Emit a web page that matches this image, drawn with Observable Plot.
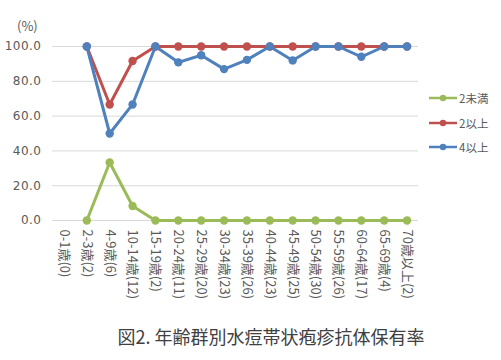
<!DOCTYPE html>
<html>
<head>
<meta charset="utf-8">
<script src="https://cdn.jsdelivr.net/npm/d3@7"></script>
<script src="https://cdn.jsdelivr.net/npm/@observablehq/plot@0.6"></script>
<style>
  html, body { margin: 0; padding: 0; background: #fff; }
  #wrap { position: relative; width: 501px; height: 360px; font-family: "Noto Sans CJK JP", "Noto Sans", sans-serif; color: #595959; }
  #wrap > svg { position: absolute; left: 0; top: 0; }
  #wrap g[aria-label="y-axis tick label"] text { font-family: "DejaVu Sans", sans-serif; letter-spacing: 0.5px; }
  #unit { position: absolute; left: 17px; top: 16px; font-size: 13px; }
  #legend { position: absolute; left: 429px; top: 86px; font-size: 11.5px; }
  .li { display: flex; align-items: center; height: 24.5px; }
  .li svg { position: static; margin-right: 2px; }
  #title { position: absolute; left: 0; width: 542px; top: 323px; text-align: center; font-size: 18px; color: #404040; }
</style>
</head>
<body>
<div id="wrap"></div>
<script>
const categories = ["0-1歳(0)","2-3歳(2)","4-9歳(6)","10-14歳(12)","15-19歳(2)","20-24歳(11)","25-29歳(20)","30-34歳(23)","35-39歳(26)","40-44歳(23)","45-49歳(25)","50-54歳(30)","55-59歳(26)","60-64歳(17)","65-69歳(4)","70歳以上(2)"];
const seriesNames = ["2未満", "2以上", "4以上"];
const seriesColors = ["#9BBB59", "#C0504D", "#4F81BD"];
const under2 = [null, 0, 33.3, 8.3, 0, 0, 0, 0, 0, 0, 0, 0, 0, 0, 0, 0];
const over2  = [null, 100, 66.7, 91.7, 100, 100, 100, 100, 100, 100, 100, 100, 100, 100, 100, 100];
const over4  = [null, 100, 50, 66.7, 100, 90.9, 95, 87, 92.3, 100, 92, 100, 100, 94.1, 100, 100];
const yTicks = [0, 20, 40, 60, 80, 100];
const titleText = "図2. 年齢群別水痘帯状疱疹抗体保有率";
const unitText = "(%)";

const seriesValues = [under2, over2, over4];
const data = [];
seriesValues.forEach((vals, si) => vals.forEach((v, i) => data.push({series: seriesNames[si], cat: categories[i], value: v})));
const valid = data.filter(d => d.value != null);

const chart = Plot.plot({
  width: 501,
  height: 360,
  marginTop: 46,
  marginBottom: 140,
  marginLeft: 52,
  marginRight: 83,
  style: {fontFamily: '"Noto Sans CJK JP", "Noto Sans", sans-serif', color: "#595959", background: "transparent"},
  x: {type: "point", domain: categories, padding: 0.5, round: false},
  y: {domain: [0, 100]},
  color: {domain: seriesNames, range: seriesColors},
  marks: [
    Plot.ruleY(yTicks, {stroke: "#D9D9D9", strokeWidth: 1}),
    Plot.axisY({ticks: yTicks, tickSize: 0, tickPadding: 11, tickFormat: d => d.toFixed(1), fontSize: 12, label: null}),
    Plot.axisX({tickSize: 0, tickPadding: 9, tickRotate: 90, fontSize: 13, label: null}),
    Plot.line(valid, {x: "cat", y: "value", z: "series", stroke: "series", strokeWidth: 3, curve: "linear"}),
    Plot.dot(valid, {x: "cat", y: "value", fill: "series", r: 4.2, stroke: "none"})
  ]
});

const wrap = document.getElementById("wrap");
wrap.appendChild(chart);

const unit = document.createElement("div");
unit.id = "unit"; unit.textContent = unitText;
wrap.appendChild(unit);

const legend = document.createElement("div");
legend.id = "legend";
seriesNames.forEach((name, i) => {
  const row = document.createElement("div");
  row.className = "li";
  const sw = d3.create("svg").attr("width", 28).attr("height", 10);
  sw.append("line").attr("x1", 0).attr("x2", 28).attr("y1", 5).attr("y2", 5).attr("stroke", seriesColors[i]).attr("stroke-width", 2.5);
  sw.append("circle").attr("cx", 14).attr("cy", 5).attr("r", 3.2).attr("fill", seriesColors[i]);
  row.appendChild(sw.node());
  const t = document.createElement("span");
  t.textContent = name;
  row.appendChild(t);
  legend.appendChild(row);
});
wrap.appendChild(legend);

const title = document.createElement("div");
title.id = "title"; title.textContent = titleText;
wrap.appendChild(title);
</script>
</body>
</html>
